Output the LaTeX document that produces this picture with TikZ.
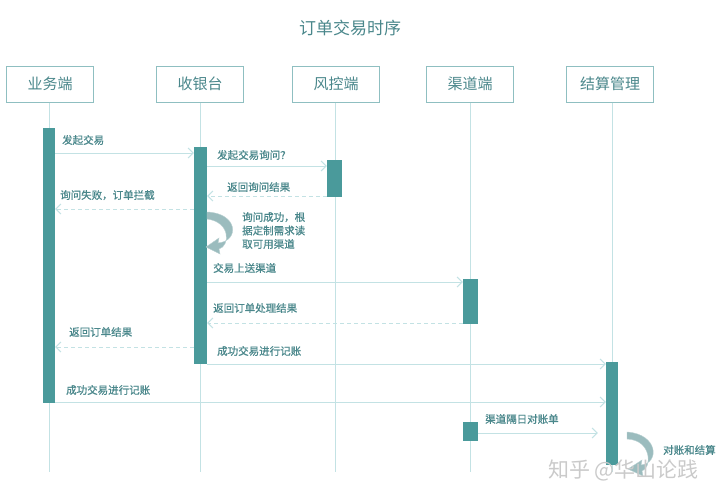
\documentclass[tikz,border=0pt]{standalone}
\usepackage{fontspec}
\setmainfont{Noto Sans CJK SC}
\newfontfamily\lblfont{Noto Sans CJK SC}[FakeBold=0.8]
\usetikzlibrary{arrows.meta,calc}
\definecolor{txt}{HTML}{4A878B}
\definecolor{barc}{HTML}{4A9A9B}
\definecolor{linec}{HTML}{C3E2E4}
\definecolor{boxc}{HTML}{8FBFC1}
\definecolor{curvc}{HTML}{9BBCBE}
\definecolor{wm}{HTML}{CACACA}
\tikzset{
  head/.style={draw=boxc,line width=1pt,fill=white,minimum width=87pt,minimum height=36pt,inner sep=0pt,font=\fontsize{15}{15}\selectfont,text=txt},
  life/.style={draw=linec,line width=0.8pt},
  actbar/.style={fill=barc,draw=none,inner sep=0pt,anchor=north},
  msg/.style={draw=linec,line width=1pt,-{Straight Barb[length=5pt,width=10pt]}},
  rmsg/.style={msg,dash pattern=on 4pt off 3pt},
  lbl/.style={font=\lblfont\fontsize{10.5}{12}\selectfont,text=txt,anchor=base west,inner sep=0pt},
  curv/.style={fill=curvc,draw=curvc!70!white,line width=0.4pt}
}
\begin{document}
\begin{tikzpicture}[x=1pt,y=-1pt]
\useasboundingbox (0,0) rectangle (720,501);
\node[font=\fontsize{17}{17}\selectfont,text=txt] (title) at (350,28) {订单交易时序};
% heads
\node[head] (h1) at (50,84) {业务端};
\node[head] (h2) at (200,84) {收银台};
\node[head] (h3) at (336,84) {风控端};
\node[head] (h4) at (470,84) {渠道端};
\node[head] (h5) at (610,84) {结算管理};
% lifelines
\coordinate (e1) at (49,472);
\coordinate (e2) at (200,472);
\coordinate (e3) at (335,472);
\coordinate (e4) at (470,472);
\coordinate (e5) at (612,472);
\draw[life] (h1.south -| e1) -- (e1);
\draw[life] (h2.south -| e2) -- (e2);
\draw[life] (h3.south -| e3) -- (e3);
\draw[life] (h4.south -| e4) -- (e4);
\draw[life] (h5.south -| e5) -- (e5);
% activation bars
\node[actbar,minimum width=12pt,minimum height=275pt] (b1) at (49,128) {};
\node[actbar,minimum width=13pt,minimum height=217pt] (b2) at (200.5,147) {};
\node[actbar,minimum width=15pt,minimum height=37pt] (b3) at (334.5,160) {};
\node[actbar,minimum width=15pt,minimum height=45pt] (b4) at (470.5,279) {};
\node[actbar,minimum width=12pt,minimum height=103pt] (b5) at (612,362) {};
\node[actbar,minimum width=15pt,minimum height=19pt] (b6) at (470.5,422) {};
% messages
\draw[msg] (b1.east |- 0,153) -- (b2.west |- 0,153);
\node[lbl] (l1) at (62,144) {发起交易};
\draw[msg] (b2.east |- 0,166) -- (b3.west |- 0,166);
\node[lbl] (l2) at (217,159) {发起交易询问？};
\draw[rmsg] (b3.west |- 0,196) -- (b2.east |- 0,196);
\node[lbl] (l3) at (227,191) {返回询问结果};
\draw[rmsg] (b2.west |- 0,209) -- (b1.east |- 0,209);
\node[lbl] (l4) at (60,199) {询问失败，订单拦截};
\draw[msg] (b2.east |- 0,282) -- (b4.west |- 0,282);
\node[lbl] (l6) at (213,272) {交易上送渠道};
\draw[rmsg] (b4.west |- 0,323) -- (b2.east |- 0,323);
\node[lbl] (l7) at (213,312) {返回订单处理结果};
\draw[rmsg] (b2.west |- 0,347) -- (b1.east |- 0,347);
\node[lbl] (l8) at (69,336) {返回订单结果};
\draw[msg] (b2.east |- 0,364) -- (b5.west |- 0,364);
\node[lbl] (l9) at (217,355) {成功交易进行记账};
\draw[msg] (b1.east |- 0,402) -- (b5.west |- 0,402);
\node[lbl] (l10) at (66,394) {成功交易进行记账};
\coordinate (t11) at ($(b5.west |- 0,433)+(-8,0)$);
\draw[msg] (b6.east |- 0,433) -- (t11);
\node[lbl] (l11) at (485,423) {渠道隔日对账单};
% self call on 收银台
\path[curv] (207,212) .. controls (238,213) and (240,241) .. (218,243)
  -- (219,238) -- (206,247) -- (220,254) -- (219,249)
  .. controls (230,246) and (231,222) .. (207,219) -- cycle;
\node[lbl,align=left,anchor=north west,font=\lblfont\fontsize{10.5}{13.5}\selectfont] (l5) at (242,212) {询问成功，根\\据定制需求读\\取可用渠道};
% self call on 结算管理
\path[curv] (627,432) .. controls (658,434) and (660,463) .. (641,465)
  -- (642,460) -- (628,469) -- (643,476) -- (642,471)
  .. controls (652,468) and (652,440) .. (627,439) -- cycle;
\node[lbl] (l12) at (663,454) {对账和结算};
% watermark
\node[font=\fontsize{21}{21}\selectfont,text=wm,anchor=west,inner sep=0pt] (wmk) at (548,470) {知乎 @华山论践};
\end{tikzpicture}
\end{document}
